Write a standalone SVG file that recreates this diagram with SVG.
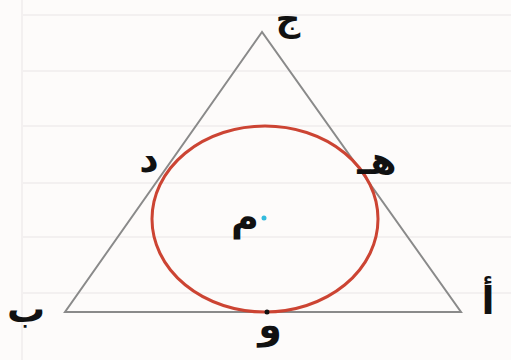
<svg xmlns="http://www.w3.org/2000/svg" width="511" height="360" viewBox="0 0 511 360">
<style>
.bg{fill:#fdfbfa}
.rule{stroke:#f3f0f0;stroke-width:2}
.edge{stroke:#8a8a8a;stroke-width:2;fill:none;stroke-linejoin:miter}
.circ{stroke:#cc4433;stroke-width:3;fill:none}
.lbl{font-family:"DejaVu Sans","Noto Sans",sans-serif;font-weight:bold;font-size:38px;fill:#111;text-anchor:middle}
</style>
<rect class="bg" x="0" y="0" width="511" height="360"/>
<g id="paper">
<line class="rule" x1="22" y1="15" x2="511" y2="15"/>
<line class="rule" x1="22" y1="71" x2="511" y2="71"/>
<line class="rule" x1="22" y1="126" x2="511" y2="126"/>
<line class="rule" x1="22" y1="183" x2="511" y2="183"/>
<line class="rule" x1="22" y1="237" x2="511" y2="237"/>
<line class="rule" x1="22" y1="293" x2="511" y2="293"/>
<line class="rule" x1="22" y1="0" x2="22" y2="360"/>
</g>
<g id="connectors">
<polygon class="edge" points="262,32 65,312 461,312"/>
</g>
<g id="incircle">
<ellipse class="circ" cx="265" cy="219" rx="113" ry="93"/>
</g>
<g id="node-m">
<circle cx="264" cy="218" r="2.5" fill="#33bbdd"/>
<text class="lbl" x="245" y="230">م</text>
</g>
<g id="node-w">
<circle cx="267" cy="312" r="2.5" fill="#111"/>
<text class="lbl" x="270" y="338">و</text>
</g>
<g id="node-j"><text class="lbl" x="288" y="31" style="font-size:34px">ج</text></g>
<g id="node-d"><text class="lbl" x="149" y="172">د</text></g>
<g id="node-h"><text class="lbl" x="377" y="174">هـ</text></g>
<g id="node-b"><text class="lbl" x="26" y="322">ب</text></g>
<g id="node-a"><text class="lbl" x="488" y="314">أ</text></g>
</svg>
